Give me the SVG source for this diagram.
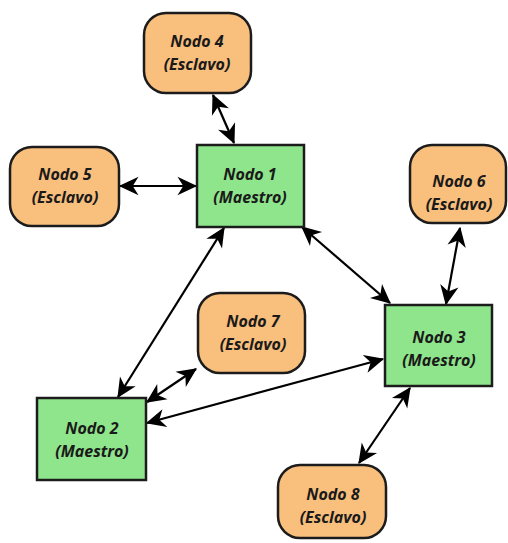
<svg xmlns="http://www.w3.org/2000/svg" width="508" height="543" viewBox="0 0 508 543">
<defs>
<style>
.slave{fill:#F9BF7D;stroke:#1c1c1c;stroke-width:2.5}
.master{fill:#8FE58B;stroke:#1c1c1c;stroke-width:2.5}
text{font-family:"Open Sans","Noto Sans",sans-serif;font-weight:bold;font-style:italic;font-size:16px;fill:#1a1a1a;text-anchor:middle}
.conn{stroke:#000;stroke-width:2.2;fill:none;marker-start:url(#ah);marker-end:url(#ah)}
</style>
<marker id="ah" markerUnits="userSpaceOnUse" markerWidth="22" markerHeight="22" viewBox="-18 -9 19 18" refX="-1" refY="0" orient="auto-start-reverse">
<path d="M0,0 L-17,-8 L-12,0 L-17,8 Z" fill="#000"/>
</marker>
</defs>
<rect width="508" height="543" fill="#fff"/>
<g id="connectors">
<line class="conn" x1="213" y1="95" x2="234" y2="143"/>
<line class="conn" x1="120" y1="186" x2="196" y2="186"/>
<line class="conn" x1="302" y1="227" x2="390" y2="303"/>
<line class="conn" x1="460" y1="228" x2="446" y2="304"/>
<line class="conn" x1="224" y1="228" x2="118" y2="397"/>
<line class="conn" x1="196" y1="369" x2="147" y2="402"/>
<line class="conn" x1="147" y1="423" x2="383" y2="359"/>
<line class="conn" x1="410" y1="388" x2="359" y2="463"/>
</g>
<g id="node4"><rect class="slave" x="144" y="13" width="107" height="80" rx="22"/><text x="197" y="47">Nodo 4</text><text x="197" y="70">(Esclavo)</text></g>
<g id="node5"><rect class="slave" x="10" y="147" width="109" height="79" rx="22"/><text x="65" y="180">Nodo 5</text><text x="65" y="203">(Esclavo)</text></g>
<g id="node1"><rect class="master" x="197" y="145" width="107" height="82"/><text x="250" y="180">Nodo 1</text><text x="250" y="203">(Maestro)</text></g>
<g id="node6"><rect class="slave" x="410" y="145" width="96" height="78" rx="22"/><text x="459" y="187">Nodo 6</text><text x="459" y="210">(Esclavo)</text></g>
<g id="node3"><rect class="master" x="385" y="305" width="107" height="81"/><text x="439" y="343">Nodo 3</text><text x="439" y="366">(Maestro)</text></g>
<g id="node7"><rect class="slave" x="198" y="293" width="107" height="80" rx="22"/><text x="253" y="327">Nodo 7</text><text x="253" y="350">(Esclavo)</text></g>
<g id="node2"><rect class="master" x="37" y="398" width="109" height="82"/><text x="92" y="434">Nodo 2</text><text x="92" y="457">(Maestro)</text></g>
<g id="node8"><rect class="slave" x="278" y="465" width="108" height="73" rx="22"/><text x="333" y="500">Nodo 8</text><text x="333" y="523">(Esclavo)</text></g>
</svg>
